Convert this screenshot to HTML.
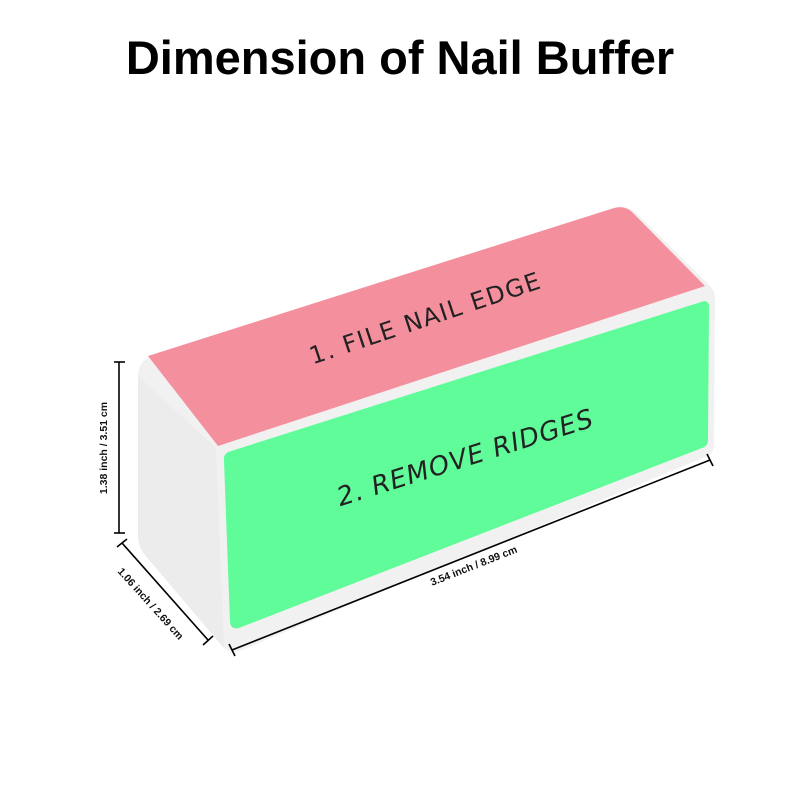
<!DOCTYPE html>
<html><head><meta charset="utf-8"><style>
html,body{margin:0;padding:0;background:#fff;}
</style></head><body>
<svg width="800" height="800" viewBox="0 0 800 800" xmlns="http://www.w3.org/2000/svg" style="display:block">
<text x="400" y="74" text-anchor="middle" font-family="Liberation Sans, sans-serif" font-weight="bold" font-size="47" fill="#000">Dimension of Nail Buffer</text>
<path d="M148,358 L616,208 Q628,205 636,213 L710,286 Q715,291 715,298 L714,446 Q713,454 705,457 L242,650 Q230,655 222,646 L145,555 Q138,546 138,536 L138,376 Q138,364 148,358 Z" fill="#f1f1f1"/>
<path d="M138,376 L216,448 L224,648 L145,555 Q138,546 138,536 Z" fill="#ececec"/>
<path d="M148,356 L614,208 Q624,205 632,212 L705,286 L218,446 Z" fill="#f4909d"/>
<path d="M228,452 Q223,455 224,461 L230,622 Q231,630 239,628 L702,448 Q708,446 708,440 L709,306 Q708,299 701,302 Z" fill="#5ffc99"/>
<text transform="translate(428,326) rotate(-18.5)" text-anchor="middle" font-family="DejaVu Sans, sans-serif" font-size="24" fill="#222" letter-spacing="1.5">1. FILE NAIL EDGE</text>
<text transform="translate(468,466) rotate(-17.5)" text-anchor="middle" font-family="DejaVu Sans, sans-serif" font-size="26" font-style="italic" fill="#222" letter-spacing="1">2. REMOVE RIDGES</text>
<g stroke="#000" stroke-width="1.6" fill="none">
<line x1="119" y1="362" x2="119" y2="533"/>
<line x1="114" y1="362" x2="125" y2="362"/>
<line x1="114" y1="533" x2="125" y2="533"/>
<line x1="122" y1="543" x2="208" y2="640"/>
<line x1="117" y1="547" x2="127" y2="539"/>
<line x1="203" y1="645" x2="213" y2="636"/>
<line x1="232" y1="650" x2="710" y2="460"/>
<line x1="229" y1="644" x2="235" y2="656"/>
<line x1="707" y1="454" x2="713" y2="466"/>
</g>
<text transform="translate(107,448) rotate(-90)" text-anchor="middle" font-family="Liberation Sans, sans-serif" font-weight="bold" font-size="10.5" fill="#111">1.38 inch / 3.51 cm</text>
<text transform="translate(148,606) rotate(48)" text-anchor="middle" font-family="Liberation Sans, sans-serif" font-weight="bold" font-size="10.5" fill="#111">1.06 inch / 2.69 cm</text>
<text transform="translate(475,569) rotate(-21.5)" text-anchor="middle" font-family="Liberation Sans, sans-serif" font-weight="bold" font-size="10.5" fill="#111">3.54 inch / 8.99 cm</text>
</svg>
</body></html>
